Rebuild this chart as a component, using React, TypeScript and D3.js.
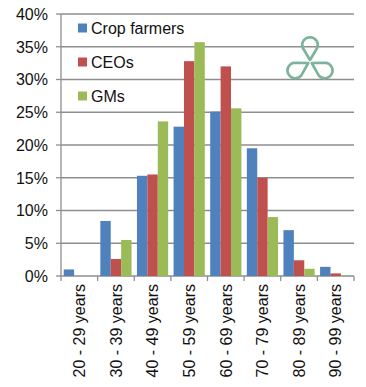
import React from 'react';
import * as d3 from 'd3';

const categories = ['20 - 29 years', '30 - 39 years', '40 - 49 years', '50 - 59 years', '60 - 69 years', '70 - 79 years', '80 - 89 years', '90 - 99 years'];
const seriesNames = ['Crop farmers', 'CEOs', 'GMs'];
const cropFarmers = [1.0, 8.4, 15.3, 22.8, 25.1, 19.5, 7.0, 1.4];
const ceos = [0, 2.6, 15.5, 32.8, 32.0, 15.0, 2.4, 0.4];
const gms = [0, 5.5, 23.6, 35.7, 25.6, 9.0, 1.1, 0.1];
const yTicks = [0, 5, 10, 15, 20, 25, 30, 35, 40];
const colors = ['#4f81bd', '#c0504d', '#9bbb59'];

const W = 366;
const H = 387;
const left = 61;
const right = 354;
const top = 14;
const bottom = 276;
const font = '"Liberation Sans", Arial, Helvetica, sans-serif';

export default function App() {
  const series = [cropFarmers, ceos, gms];
  const x = d3.scaleBand<string>().domain(categories).range([left, right]).paddingInner(0).paddingOuter(0);
  const bw = x.bandwidth();
  const inner = d3.scaleBand<string>().domain(seriesNames).range([0, bw]).paddingInner(0).paddingOuter(0.26);
  const y = d3.scaleLinear().domain([0, 40]).range([bottom, top]);

  // trefoil logo
  const cx = 310, cy = 62, dist = 17, r = 7.8;
  const drops = [-90, 30, 150].map(a => {
    const rad = (a * Math.PI) / 180;
    const ccx = cx + dist * Math.cos(rad);
    const ccy = cy + dist * Math.sin(rad);
    // tip toward center
    const tipX = cx + (dist - 15) * Math.cos(rad);
    const tipY = cy + (dist - 15) * Math.sin(rad);
    const back = Math.atan2(tipY - ccy, tipX - ccx);
    const off = Math.PI / 2.6;
    const p1x = ccx + r * Math.cos(back - off);
    const p1y = ccy + r * Math.sin(back - off);
    const p2x = ccx + r * Math.cos(back + off);
    const p2y = ccy + r * Math.sin(back + off);
    return `M${tipX},${tipY} L${p1x},${p1y} A${r},${r} 0 1 0 ${p2x},${p2y} Z`;
  });

  return (
    <svg width={W} height={H} style={{ position: 'absolute', left: 0, top: 0, background: '#fff' }} fontFamily={font}>
      {yTicks.map(t => (
        <g key={t}>
          <line x1={left} x2={right} y1={y(t)} y2={y(t)} stroke="#8e8e8e" strokeWidth={1.3} />
          <line x1={left - 5} x2={left} y1={y(t)} y2={y(t)} stroke="#8e8e8e" strokeWidth={1.3} />
          <text x={48} y={y(t)} dy="0.36em" textAnchor="end" fontSize={16} fill="#111">{t}%</text>
        </g>
      ))}
      <line x1={left} x2={left} y1={top} y2={bottom} stroke="#8e8e8e" strokeWidth={1.3} />
      {categories.concat(['']).map((c, i) => {
        const xx = left + i * bw;
        return <line key={'t' + i} x1={xx} x2={xx} y1={bottom} y2={bottom + 5} stroke="#8e8e8e" strokeWidth={1.3} />;
      })}
      {series.map((vals, si) => (
        <g key={si} fill={colors[si]}>
          {vals.map((v, ci) => (
            <rect key={ci}
              x={(x(categories[ci]) ?? 0) + (inner(seriesNames[si]) ?? 0)}
              y={y(v)}
              width={inner.bandwidth()}
              height={bottom - y(v)} />
          ))}
        </g>
      ))}
      {categories.map(c => {
        const cxp = (x(c) ?? 0) + bw / 2;
        return (
          <text key={c} transform={`translate(${cxp},${284}) rotate(-90)`} textAnchor="end" dy="0.36em" fontSize={16} fill="#111">{c}</text>
        );
      })}
      {seriesNames.map((s, i) => (
        <g key={s} transform={`translate(78,${28 + i * 34})`}>
          <rect x={0} y={-4.5} width={9} height={9} fill={colors[i]} />
          <text x={13} y={0} dy="0.36em" fontSize={16} fill="#111">{s}</text>
        </g>
      ))}
      <g fill="none" stroke="#7bb39c" strokeWidth={2.6} strokeLinejoin="round">
        {drops.map((d, i) => <path key={i} d={d} />)}
      </g>
    </svg>
  );
}
